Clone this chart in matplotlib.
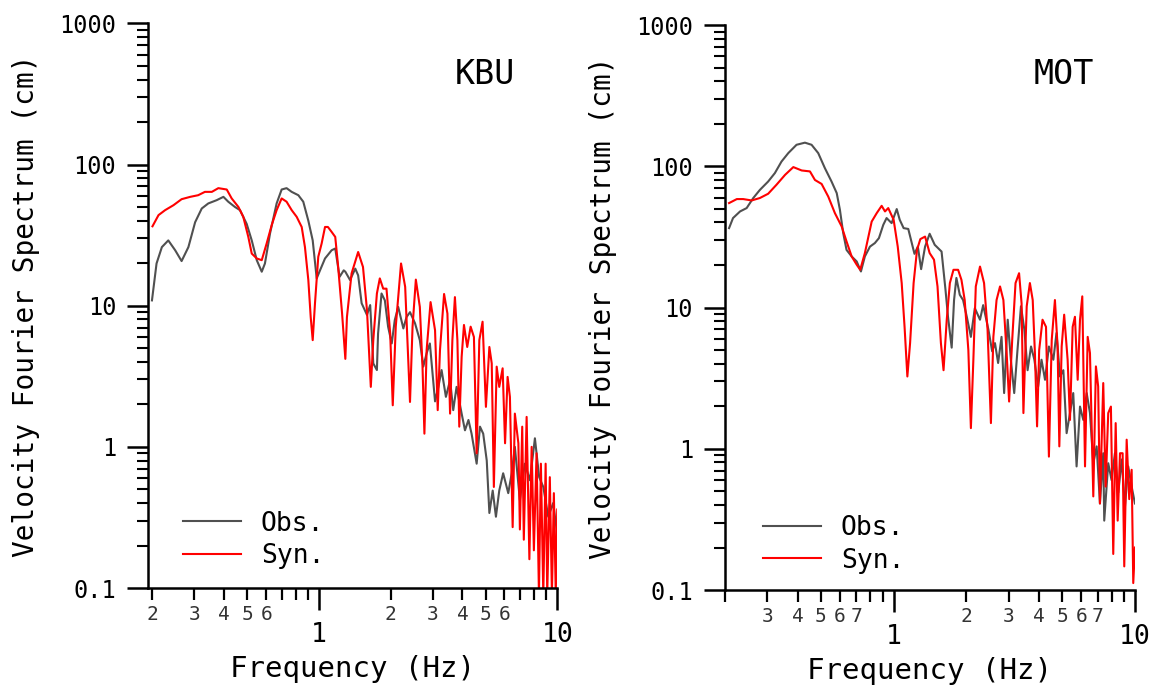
import matplotlib
matplotlib.use('Agg')
import matplotlib.pyplot as plt
from matplotlib.ticker import FixedLocator, FuncFormatter
import numpy as np

plt.rcParams['font.family'] = ['DejaVu Sans Mono']

# ---------------- data ----------------
kbu_obs_f = [0.199, 0.208, 0.219, 0.233, 0.249, 0.265, 0.283, 0.302, 0.322, 0.343, 0.372, 0.397, 0.416,
             0.444, 0.466, 0.497, 0.522, 0.548, 0.575, 0.593, 0.623, 0.664, 0.697, 0.731, 0.768, 0.819,
             0.859, 0.902, 0.941, 0.978, 1.01, 1.06, 1.13, 1.17, 1.22, 1.27, 1.29, 1.35, 1.42, 1.46, 1.51,
             1.59, 1.64, 1.69, 1.75, 1.77, 1.83, 1.89, 1.95, 2.02, 2.08, 2.15, 2.26, 2.33, 2.41, 2.53, 2.65,
             2.74, 2.83, 2.92, 3.07, 3.17, 3.27, 3.41, 3.55, 3.66, 3.78, 3.97, 4.10, 4.24, 4.37, 4.59, 4.74,
             4.89, 5.06, 5.19, 5.36, 5.53, 5.71, 5.93, 6.23, 6.44, 6.64, 6.97, 7.31, 7.68, 8.06, 8.40, 8.74,
             9.17, 9.62, 9.94, 10.0]
kbu_obs_v = [10.9, 19.9, 26, 29, 24.7, 20.7, 26, 39, 48.8, 53, 55.9, 59, 54.5,
             50, 47.5, 38, 29, 21, 17.4, 19.9, 32.5, 53, 66.5, 68, 64, 60.6,
             54.5, 40, 29, 15.6, 17.8, 21.6, 24.7, 25.4, 16.0, 17.8, 17.4, 15.2, 18.3, 16.4, 10.4,
             8.6, 10.1, 3.9, 3.5, 6.35, 12.2, 10.9, 7.1, 5.4, 7.9, 9.8, 6.9, 8.3, 9.0, 7.5, 5.7,
             3.7, 4.6, 5.4, 2.1, 2.66, 3.5, 2.26, 2.97, 1.82, 2.66, 1.72, 1.31, 1.55, 1.24, 0.76, 1.39,
             1.24, 0.80, 0.34, 0.49, 0.32, 0.49, 0.65, 0.47, 0.65, 1.0, 0.42, 0.76, 0.58, 1.15, 0.61, 0.52,
             0.32, 0.40, 0.26, 0.17]

kbu_syn_f = [0.200, 0.212, 0.226, 0.245, 0.265, 0.288, 0.311, 0.332, 0.355, 0.378, 0.410, 0.430, 0.459,
             0.481, 0.505, 0.522, 0.548, 0.575, 0.603, 0.633, 0.664, 0.697, 0.731, 0.768, 0.806, 0.846,
             0.873, 0.902, 0.923, 0.941, 0.962, 0.993, 1.026, 1.06, 1.09, 1.13, 1.17, 1.20, 1.25, 1.29,
             1.31, 1.37, 1.46, 1.53, 1.59, 1.65, 1.69, 1.75, 1.80, 1.86, 1.92, 1.99, 2.04, 2.10, 2.21,
             2.30, 2.36, 2.41, 2.47, 2.55, 2.65, 2.72, 2.77, 2.83, 2.94, 3.07, 3.15, 3.22, 3.35, 3.46,
             3.55, 3.63, 3.72, 3.81, 3.88, 3.97, 4.06, 4.19, 4.33, 4.47, 4.59, 4.71, 4.86, 5.02, 5.19,
             5.31, 5.42, 5.57, 5.71, 5.90, 6.04, 6.19, 6.33, 6.50, 6.64, 6.87, 6.97, 7.13, 7.24, 7.44,
             7.64, 7.81, 7.98, 8.19, 8.38, 8.54, 8.74, 8.94, 9.08, 9.31, 9.50, 9.68, 9.86, 10.0]
kbu_syn_v = [36.5, 43.8, 47.5, 51.5, 56.8, 59, 60.6, 64, 64, 68, 66.5, 57.5, 50,
             42.6, 30.7, 23.4, 21.6, 21, 27.6, 37.2, 47.5, 57.5, 54.5, 47.5, 42.6, 36.1,
             26, 15.2, 8.3, 5.7, 10.4, 22.2, 27.6, 36.1, 36.1, 33.3, 30.7, 19.9, 8.8, 4.2,
             8.3, 16.9, 24, 18.8, 9.3, 2.66, 5.7, 12.2, 15.6, 13.2, 13.2, 6.35, 1.97, 7.1, 19.9,
             13.6, 4.84, 2.08, 7.1, 15.3, 9.8, 3.7, 1.24, 4.84, 10.6, 6.7, 1.82, 4.84, 12.1, 8.8,
             1.72, 5.7, 11.5, 5.7, 1.39, 4.34, 7.3, 5.1, 7.1, 6.0, 0.90, 5.7, 7.7, 1.92, 5.1,
             3.9, 0.52, 3.7, 2.66, 3.6, 1.06, 3.13, 2.26, 0.27, 1.72, 1.06, 0.26, 1.39, 0.22, 1.63,
             0.16, 1.0, 0.185, 0.90, 0.09, 0.76, 0.09, 0.76, 0.09, 0.61, 0.09, 0.47, 0.09, 0.36]

mot_obs_f = [0.208, 0.216, 0.231, 0.246, 0.262, 0.279, 0.302, 0.322, 0.343, 0.366, 0.396, 0.429, 0.457,
             0.487, 0.519, 0.553, 0.581, 0.599, 0.618, 0.638, 0.670, 0.703, 0.732, 0.760, 0.798, 0.836,
             0.869, 0.906, 0.935, 0.981, 1.03, 1.06, 1.10, 1.15, 1.22, 1.26, 1.30, 1.35, 1.41, 1.48,
             1.58, 1.64, 1.68, 1.74, 1.78, 1.82, 1.88, 1.94, 2.01, 2.09, 2.17, 2.28, 2.35, 2.47, 2.56,
             2.63, 2.71, 2.80, 2.87, 2.97, 3.06, 3.16, 3.26, 3.37, 3.48, 3.59, 3.71, 3.83, 3.97, 4.10,
             4.24, 4.40, 4.59, 4.73, 4.89, 5.05, 5.21, 5.38, 5.55, 5.73, 5.92, 6.11, 6.31, 6.51, 6.72,
             6.94, 7.16, 7.39, 7.46, 7.75, 8.00, 8.26, 8.53, 8.81, 9.09, 9.38, 9.69, 10.0]
mot_obs_v = [36.5, 43, 47.9, 50.6, 59.6, 68, 78, 89.5, 108, 124, 142, 147, 142,
             124, 97, 78, 64.6, 49.2, 33.7, 25.6, 23, 21.2, 18, 23, 27, 28.6,
             31, 38.5, 43, 39.6, 49.8, 41.8, 36.5, 36, 24, 27, 18.7, 27, 33.3, 27.8,
             24.9, 13.4, 8.6, 5.2, 11.3, 16.2, 12.3, 11.3, 8.6, 6.2, 9.9, 8.2, 10.4, 7.0, 4.9,
             5.6, 4.05, 6.2, 2.48, 8.2, 4.27, 2.48, 5.0, 10.2, 7.0, 3.6, 5.3, 4.27, 2.76, 4.27,
             3.08, 5.3, 4.27, 6.6, 3.25, 3.6, 1.29, 1.79, 2.48, 0.75, 1.99, 1.60, 2.48, 1.79, 0.79,
             1.04, 0.41, 0.93, 0.31, 0.79, 0.60, 0.93, 0.49, 0.84, 0.39, 0.75, 0.54, 0.41]

mot_syn_f = [0.208, 0.224, 0.238, 0.258, 0.279, 0.302, 0.327, 0.355, 0.384, 0.416, 0.450, 0.472, 0.503,
             0.536, 0.571, 0.609, 0.638, 0.670, 0.703, 0.727, 0.760, 0.811, 0.851, 0.892, 0.921, 0.950,
             1.00, 1.04, 1.08, 1.11, 1.14, 1.17, 1.21, 1.25, 1.29, 1.35, 1.41, 1.47, 1.52, 1.57, 1.61,
             1.66, 1.71, 1.77, 1.85, 1.91, 1.97, 2.04, 2.09, 2.14, 2.19, 2.28, 2.37, 2.45, 2.53, 2.59,
             2.67, 2.76, 2.85, 2.94, 3.01, 3.10, 3.20, 3.31, 3.39, 3.45, 3.56, 3.67, 3.77, 3.85, 3.93,
             4.01, 4.14, 4.28, 4.40, 4.52, 4.66, 4.78, 4.86, 4.97, 5.09, 5.26, 5.38, 5.52, 5.64, 5.79,
             5.92, 6.05, 6.21, 6.37, 6.51, 6.72, 6.89, 7.04, 7.16, 7.39, 7.56, 7.75, 7.95, 8.13, 8.32,
             8.48, 8.67, 8.89, 9.03, 9.24, 9.47, 9.69, 9.84, 10.0]
mot_syn_v = [54.9, 58.6, 58.6, 57.3, 59.6, 63.9, 74, 87, 98.7, 93.4, 92, 80, 75,
             61, 46.6, 37.5, 29.4, 23, 20.1, 18.5, 24.3, 40.6, 46.6, 52.5, 47.9, 50.6,
             41.8, 27, 14.9, 7.3, 3.25, 5.6, 14.9, 25.6, 30.5, 31.8, 24.3, 21.8, 14.1, 5.6, 3.6,
             8.2, 14.9, 18.5, 18.5, 15.7, 11.3, 5.0, 1.40, 4.27, 14.1, 19.5, 14.9, 7.0, 1.52, 6.2,
             11.3, 14.1, 11.3, 4.76, 2.16, 5.9, 14.9, 17.5, 10.7, 1.79, 10.2, 14.9, 11.3, 4.76, 1.44,
             5.0, 8.2, 7.3, 0.88, 5.9, 11.3, 5.3, 1.04, 5.3, 8.9, 4.27, 1.60, 7.3, 8.6, 3.08,
             8.2, 12, 0.75, 6.2, 4.76, 0.46, 3.83, 2.76, 0.41, 2.92, 0.54, 1.79, 1.99, 0.18, 1.52,
             0.31, 0.93, 0.93, 0.147, 1.16, 0.44, 0.71, 0.112, 0.20]

y_ticks = [0.1, 1, 10, 100, 1000]
y_tick_labels = ['0.1', '1', '10', '100', '1000']
x_major_ticks = [1, 10]
x_major_labels = ['1', '10']
kbu_minor_labels = [0.2, 0.3, 0.4, 0.5, 0.6, 2, 3, 4, 5, 6]
mot_minor_labels = [0.3, 0.4, 0.5, 0.6, 0.7, 2, 3, 4, 5, 6, 7]
legend_labels = ['Obs.', 'Syn.']
xlabel = 'Frequency (Hz)'
ylabel = 'Velocity Fourier Spectrum (cm)'

OBS_COLOR = '#505050'
SYN_COLOR = '#ff0000'


def style(ax, xmin, minor_labels, station, st_xy, leg_xy, ylab_x):
    ax.set_xscale('log')
    ax.set_yscale('log')
    ax.set_xlim(xmin, 10)
    ax.set_ylim(0.1, 1000)
    for s in ['top', 'right']:
        ax.spines[s].set_visible(False)
    for s in ['left', 'bottom']:
        ax.spines[s].set_linewidth(1.8)

    ax.xaxis.set_major_locator(FixedLocator(x_major_ticks))
    ax.xaxis.set_major_formatter(FuncFormatter(
        lambda v, p: x_major_labels[x_major_ticks.index(int(round(v)))] if int(round(v)) in x_major_ticks else ''))
    minors = [m * d for d in (0.1, 1) for m in range(2, 10) if m * d >= xmin - 1e-9]
    ax.xaxis.set_minor_locator(FixedLocator(minors))

    def minor_fmt(v, p):
        for l in minor_labels:
            if abs(v - l) < 1e-6:
                mant = v / (10 ** np.floor(np.log10(v) + 1e-9))
                return '%d' % int(round(mant))
        return ''
    ax.xaxis.set_minor_formatter(FuncFormatter(minor_fmt))

    ax.yaxis.set_major_locator(FixedLocator(y_ticks))
    ax.yaxis.set_major_formatter(FuncFormatter(
        lambda v, p: y_tick_labels[int(round(np.log10(v))) + 1]))
    yminors = [m * 10.0 ** k for k in range(-1, 3) for m in range(2, 10)]
    ax.yaxis.set_minor_locator(FixedLocator(yminors))
    ax.yaxis.set_minor_formatter(FuncFormatter(lambda v, p: ''))

    ax.tick_params(axis='y', which='major', direction='out', length=15, width=1.8,
                   labelsize=17, pad=8)
    ax.tick_params(axis='y', which='minor', direction='out', length=8, width=1.5)
    ax.tick_params(axis='x', which='major', direction='out', length=15.5, width=1.8,
                   labelsize=19, pad=9)
    ax.tick_params(axis='x', which='minor', direction='out', length=8.5, width=1.6,
                   labelsize=14, pad=3.5, labelcolor='#333333')

    ax.set_xlabel(xlabel, fontsize=21, labelpad=5)
    ax.set_ylabel(ylabel, fontsize=20, va='center')
    ax.yaxis.set_label_coords(ylab_x, 0.5)

    ax.text(st_xy[0], st_xy[1], station, transform=ax.transAxes, ha='center', va='center',
            fontsize=24)
    ax.legend(legend_labels, loc='center left', bbox_to_anchor=leg_xy, frameon=False,
              prop={'size': 19}, handlelength=2.2, handletextpad=0.75, labelspacing=0.25,
              borderpad=0, borderaxespad=0)


fig = plt.figure(figsize=(11.52, 6.88), dpi=100)
axL = fig.add_axes([0.1287, 0.1453, 0.3550, 0.8208])
axR = fig.add_axes([0.6293, 0.1424, 0.3559, 0.8212])

axL.plot(kbu_obs_f, kbu_obs_v, color=OBS_COLOR, lw=1.5)
axL.plot(kbu_syn_f, kbu_syn_v, color=SYN_COLOR, lw=1.5)
axR.plot(mot_obs_f, mot_obs_v, color=OBS_COLOR, lw=1.5)
axR.plot(mot_syn_f, mot_syn_v, color=SYN_COLOR, lw=1.5)

style(axL, 0.192, kbu_minor_labels, 'KBU', (0.823, 0.91), (0.085, 0.085), -0.30)
style(axR, 0.2, mot_minor_labels, 'MOT', (0.827, 0.912), (0.093, 0.081), -0.298)

fig.savefig('out.png', dpi=100)
